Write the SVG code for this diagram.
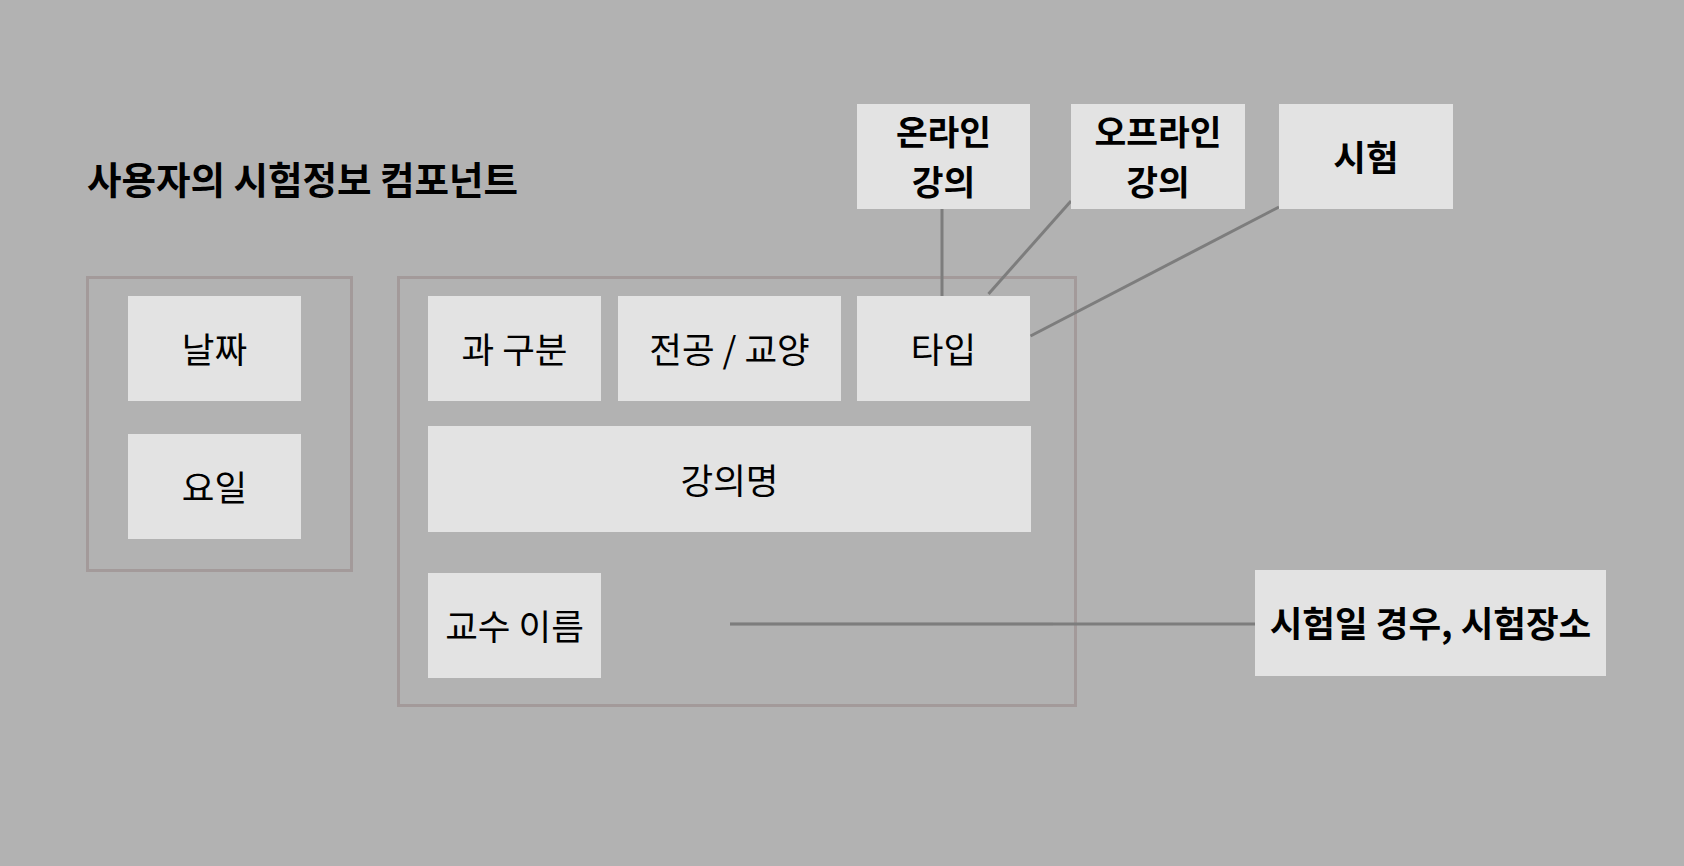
<svg xmlns="http://www.w3.org/2000/svg" width="1684" height="866" viewBox="0 0 1684 866">
  <style>
    .bg { fill: #b2b2b2; }
    .group { fill: none; stroke: #a39a9a; stroke-width: 3; }
    .node { fill: #e3e3e3; }
    .lbl { font-family: "Noto Sans CJK KR", "Noto Sans", sans-serif; font-size: 35.5px; fill: #000; text-anchor: middle; dominant-baseline: central; }
    .bold { font-weight: bold; }
    .two { font-size: 34.5px; }
    .title { font-family: "Noto Sans CJK KR", "Noto Sans", sans-serif; font-size: 37.5px; font-weight: bold; fill: #000; dominant-baseline: central; }
    .conn { stroke: #7d7d7d; stroke-width: 3; fill: none; }
  </style>
  <rect class="bg" x="0" y="0" width="1684" height="866"/>
  <text id="title" class="title" x="87" y="177">사용자의 시험정보 컴포넌트</text>

  <g id="group-date">
    <rect class="group" x="87.5" y="277.5" width="264" height="293"/>
  </g>
  <g id="group-lecture">
    <rect class="group" x="398.5" y="277.5" width="677" height="428"/>
  </g>

  <g id="connectors">
    <line class="conn" x1="942" y1="209" x2="942" y2="296"/>
    <line class="conn" x1="1071" y1="201" x2="988.5" y2="294"/>
    <line class="conn" x1="1279" y1="207" x2="1030.5" y2="336"/>
    <line class="conn" x1="730" y1="624" x2="1255" y2="624"/>
    <line class="conn" x1="730" y1="624" x2="1053" y2="624" stroke-opacity="0.35"/>
  </g>

  <g id="node-date">
    <rect class="node" x="128" y="296" width="173" height="105"/>
    <text class="lbl" x="214.5" y="347">날짜</text>
  </g>
  <g id="node-day">
    <rect class="node" x="128" y="434" width="173" height="105"/>
    <text class="lbl" x="214.5" y="485">요일</text>
  </g>
  <g id="node-dept">
    <rect class="node" x="428" y="296" width="173" height="105"/>
    <text class="lbl" x="514.5" y="347">과 구분</text>
  </g>
  <g id="node-major">
    <rect class="node" x="618" y="296" width="223" height="105"/>
    <text class="lbl" x="729.5" y="347">전공 / 교양</text>
  </g>
  <g id="node-type">
    <rect class="node" x="857" y="296" width="173" height="105"/>
    <text class="lbl" x="943.5" y="347">타입</text>
  </g>
  <g id="node-name">
    <rect class="node" x="428" y="426" width="603" height="106"/>
    <text class="lbl" x="729.5" y="478">강의명</text>
  </g>
  <g id="node-prof">
    <rect class="node" x="428" y="573" width="173" height="105"/>
    <text class="lbl" x="514.5" y="624">교수 이름</text>
  </g>
  <g id="node-online">
    <rect class="node" x="857" y="104" width="173" height="105"/>
    <text class="lbl bold two" x="943.5" y="130">온라인</text>
    <text class="lbl bold two" x="943.5" y="180">강의</text>
  </g>
  <g id="node-offline">
    <rect class="node" x="1071" y="104" width="174" height="105"/>
    <text class="lbl bold two" x="1158" y="130">오프라인</text>
    <text class="lbl bold two" x="1158" y="180">강의</text>
  </g>
  <g id="node-exam">
    <rect class="node" x="1279" y="104" width="174" height="105"/>
    <text class="lbl bold" x="1366" y="155">시험</text>
  </g>
  <g id="node-place">
    <rect class="node" x="1255" y="570" width="351" height="106"/>
    <text class="lbl bold" x="1430.5" y="621">시험일 경우, 시험장소</text>
  </g>
</svg>
